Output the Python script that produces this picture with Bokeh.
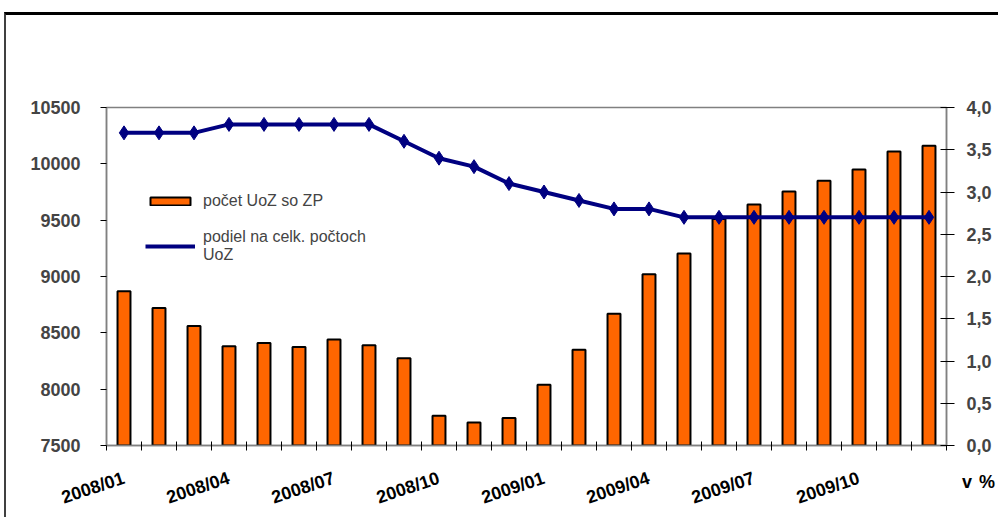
from bokeh.plotting import figure
from bokeh.models import (Range1d, LinearAxis, FixedTicker, CustomJSTickFormatter,
                          Legend, LegendItem, ColumnDataSource, Div)
from bokeh.embed import file_html
from bokeh.resources import INLINE

months = ["2008/01", "2008/02", "2008/03", "2008/04", "2008/05", "2008/06",
          "2008/07", "2008/08", "2008/09", "2008/10", "2008/11", "2008/12",
          "2009/01", "2009/02", "2009/03", "2009/04", "2009/05", "2009/06",
          "2009/07", "2009/08", "2009/09", "2009/10", "2009/11", "2009/12"]
pocet_uoz_zp = [8870, 8720, 8560, 8380, 8410, 8375, 8440, 8390, 8275, 7765, 7705, 7745,
                8040, 8350, 8670, 9020, 9205, 9510, 9640, 9755, 9850, 9950, 10110, 10160]
podiel_pct = [3.7, 3.7, 3.7, 3.8, 3.8, 3.8, 3.8, 3.8, 3.6, 3.4, 3.3, 3.1,
              3.0, 2.9, 2.8, 2.8, 2.7, 2.7, 2.7, 2.7, 2.7, 2.7, 2.7, 2.7]
left_ticks = [7500, 8000, 8500, 9000, 9500, 10000, 10500]
right_ticks = [0.0, 0.5, 1.0, 1.5, 2.0, 2.5, 3.0, 3.5, 4.0]
unit_text = "v %"
label_every = 3

xs = list(range(1, len(months) + 1))
src = ColumnDataSource(dict(x=xs, bars=pocet_uoz_zp, pct=podiel_pct, month=months))

FONT = "Liberation Sans"
AXIS_COLOR = "#808080"

p = figure(output_backend="svg", toolbar_location=None,
           frame_width=840, frame_height=338,
           min_border_left=100, min_border_right=52, min_border_top=92, min_border_bottom=64,
           x_range=Range1d(0.5, len(months) + 0.5),
           y_range=Range1d(left_ticks[0], left_ticks[-1]))
p.styles = {"margin-top": "12px", "margin-left": "4px", "border-top": "3px solid black",
            "border-left": "2px solid #404040"}
p.extra_y_ranges = {"pct": Range1d(right_ticks[0], right_ticks[-1])}
p.grid.visible = False
p.outline_line_color = AXIS_COLOR
p.outline_line_width = 1.5
p.background_fill_color = "white"
p.border_fill_color = "white"

bars = p.vbar(x="x", top="bars", bottom=left_ticks[0], width=0.37, source=src,
              fill_color="#FF6600", line_color="black", line_width=2)
line = p.line(x="x", y="pct", source=src, y_range_name="pct",
              line_color="#000080", line_width=4)
p.scatter(x="x", y="pct", source=src, y_range_name="pct", marker="diamond",
          size=14, fill_color="#000080", line_color="#000080")
leg_marker = p.scatter(x=[], y=[], y_range_name="pct", marker="diamond", size=6,
                       fill_color="#000080", line_color="#000080")

# x axis
xa = p.xaxis[0]
xa.ticker = FixedTicker(ticks=xs[::label_every],
                        minor_ticks=[i + 0.5 for i in range(0, len(months) + 1)])
xa.major_label_overrides = {x: m for x, m in zip(xs, months)}
xa.major_tick_line_color = None
xa.minor_tick_in = 4
xa.minor_tick_out = 5
xa.minor_tick_line_color = "black"
xa.axis_line_color = AXIS_COLOR
xa.axis_line_width = 1.5
xa.major_label_orientation = 0.32
xa.major_label_standoff = 26
xa.major_label_text_font = FONT
xa.major_label_text_font_style = "bold"
xa.major_label_text_font_size = "18px"
xa.major_label_text_color = "black"

# left axis
ya = p.yaxis[0]
ya.ticker = FixedTicker(ticks=left_ticks)
ya.major_tick_in = 0
ya.major_tick_out = 6
ya.minor_tick_line_color = None
ya.axis_line_color = AXIS_COLOR
ya.axis_line_width = 1.5
ya.major_tick_line_color = "black"
ya.major_label_standoff = 20
ya.major_label_text_font = FONT
ya.major_label_text_font_style = "bold"
ya.major_label_text_font_size = "18px"

# right axis
ra = LinearAxis(y_range_name="pct", ticker=FixedTicker(ticks=right_ticks),
                formatter=CustomJSTickFormatter(code="return tick.toFixed(1).replace('.', ',');"))
ra.major_tick_in = 6
ra.major_tick_out = 8
ra.minor_tick_line_color = None
ra.axis_line_color = AXIS_COLOR
ra.axis_line_width = 1.5
ra.major_label_standoff = 12
ra.major_label_text_font = FONT
ra.major_label_text_font_style = "bold"
ra.major_label_text_font_size = "18px"
p.add_layout(ra, "right")

# unit caption below the right axis (outside the frame, so a DOM element)
unit = Div(text=unit_text, styles={"position": "absolute", "left": "956px", "top": "455px",
                                   "font-family": "'Liberation Sans'", "font-weight": "bold",
                                   "font-size": "18px", "letter-spacing": "1px",
                                   "color": "black", "white-space": "nowrap"})
try:
    p.elements = [unit]
except Exception:
    pass

legend = Legend(items=[
    LegendItem(label="počet UoZ so ZP", renderers=[bars]),
    LegendItem(label="podiel na celk. počtoch\nUoZ", renderers=[line, leg_marker]),
], location=(39, 181))
legend.glyph_width = 50
legend.glyph_height = 10
legend.label_text_font = FONT
legend.label_text_font_size = "16px"
legend.label_standoff = 8
legend.spacing = 18
legend.padding = 0
legend.margin = 0
legend.border_line_color = None
legend.background_fill_alpha = 0
p.add_layout(legend)

open("out.html", "w").write(file_html(p, INLINE))
